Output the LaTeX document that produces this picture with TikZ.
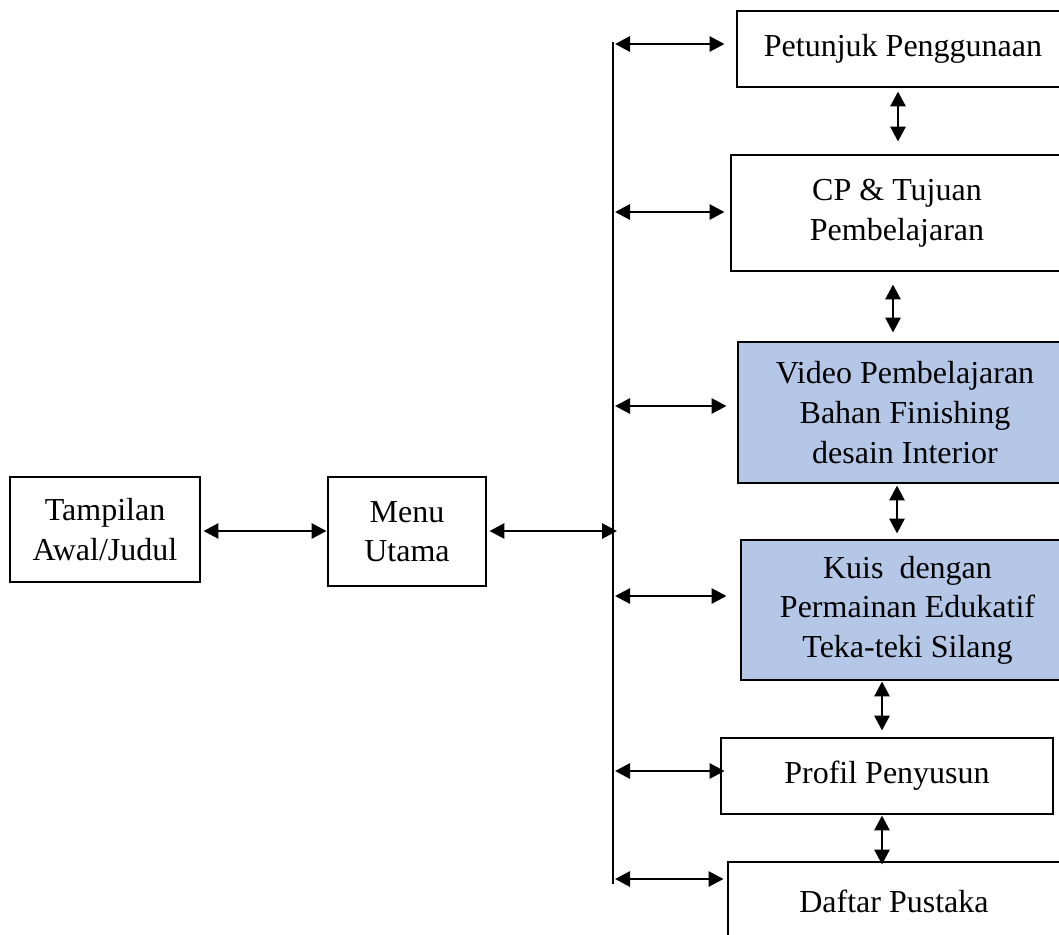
\documentclass[tikz,border=0pt]{standalone}
\usepackage{fontspec}
\setmainfont{Liberation Serif}
\usetikzlibrary{arrows.meta}
\definecolor{boxblue}{RGB}{180,199,231}
\tikzset{
  box/.style={draw=black, line width=1.45pt, align=center, inner sep=0pt,
    font=\fontsize{16}{19.8}\selectfont},
  arr/.style={line width=1.45pt, {Triangle[length=7.5pt,width=7.5pt]}-{Triangle[length=7.5pt,width=7.5pt]}},
  busline/.style={line width=1.45pt}
}
\begin{document}
\begin{tikzpicture}[x=0.5pt,y=-0.5pt]
\useasboundingbox (0,0) rectangle (1059,934);
\clip (0,0) rectangle (1059,934);
% boxes
\node[box, minimum width=95pt, minimum height=52.5pt] (tam) at (105,529.5) {Tampilan\\Awal/Judul};
\node[box, minimum width=79pt, minimum height=54.5pt] (men) at (407,531.5) {Menu\\Utama};
\node[box, minimum width=166pt, minimum height=38pt] (pet) at (903,49) {Petunjuk Penggunaan};
\node[box, minimum width=166pt, minimum height=58pt] (cp) at (897,213) {CP \& Tujuan\\Pembelajaran};
\node[box, fill=boxblue, minimum width=167pt, minimum height=70.5pt] (vid) at (905,412.5) {Video Pembelajaran\\Bahan Finishing\\desain Interior};
\node[box, fill=boxblue, minimum width=166.5pt, minimum height=70pt] (kui) at (907.5,610) {Kuis\ \ dengan\\Permainan Edukatif\\Teka-teki Silang};
\node[box, minimum width=166pt, minimum height=38pt] (pro) at (887,776) {Profil Penyusun};
\node[box, minimum width=166pt, minimum height=39pt] (daf) at (894,901) {Daftar Pustaka};
% bus
\coordinate (bt) at (613,42);
\coordinate (bb) at (613,884);
\draw[busline] (bt) -- (bb);
\coordinate (b1) at (613,44);
\coordinate (b2) at (613,212);
\coordinate (b3) at (613,406);
\coordinate (bm) at (613,531);
\coordinate (b4) at (613,596);
\coordinate (b5) at (613,771);
\coordinate (b6) at (613,879);
% horizontal arrows
\draw[arr, shorten <=1pt] (b1) -- ([xshift=-5.5pt]b1 -| pet.west);
\draw[arr, shorten <=1pt] (b2) -- ([xshift=-2.5pt]b2 -| cp.west);
\draw[arr, shorten <=1pt] (b3) -- ([xshift=-5pt]b3 -| vid.west);
\draw[arr, shorten <=1pt] (b4) -- ([xshift=-6.5pt]b4 -| kui.west);
\draw[arr, shorten <=1pt] (b5) -- ([xshift=2.5pt]b5 -| pro.west);
\draw[arr, shorten <=1pt] (b6) -- ([xshift=-1.5pt]b6 -| daf.west);
\draw[arr, shorten <=1pt, shorten >=-2pt] (men.east |- bm) -- (bm);
\draw[arr, shorten <=1pt, shorten >=0pt] (tam.east |- bm) -- (men.west |- bm);
% vertical arrows
\coordinate (v1) at (898,0);
\coordinate (v2) at (893,0);
\coordinate (v3) at (897,0);
\coordinate (v4) at (882,0);
\draw[arr, shorten <=1.5pt, shorten >=6pt] (pet.south -| v1) -- (cp.north -| v1);
\draw[arr, shorten <=6pt, shorten >=4pt] (cp.south -| v2) -- (vid.north -| v2);
\draw[arr, shorten <=0.5pt, shorten >=2.5pt] (vid.south -| v3) -- (kui.north -| v3);
\draw[arr, shorten <=0pt, shorten >=3pt] (kui.south -| v4) -- (pro.north -| v4);
\draw[arr, shorten <=0pt, shorten >=-2pt] (pro.south -| v4) -- (daf.north -| v4);
\end{tikzpicture}
\end{document}
